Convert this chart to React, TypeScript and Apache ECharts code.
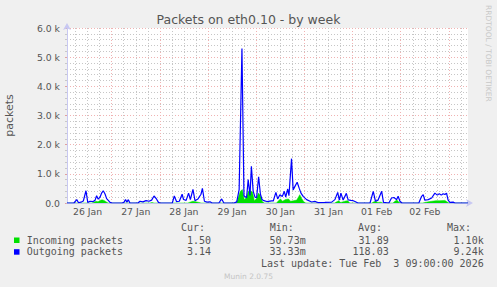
import { useEffect, useRef } from 'react';
import * as echarts from 'echarts';

const TITLE = 'Packets on eth0.10 - by week';
const Y_NAME = 'packets';

// hours measured from 26 Jan 00:00
const X_MIN = 1.75;
const X_MAX = 201.5;
const dayLabels = ['26 Jan', '27 Jan', '28 Jan', '29 Jan', '30 Jan', '31 Jan', '01 Feb', '02 Feb'];
const dayNoonHours = [12, 36, 60, 84, 108, 132, 156, 180];
const midnightHours = [24, 48, 72, 96, 120, 144, 168, 192];
const sixHourHours = [6, 12, 18, 30, 36, 42, 54, 60, 66, 78, 84, 90, 102, 108, 114, 126, 132, 138, 150, 156, 162, 174, 180, 186, 198];

const yTicks = [0, 1000, 2000, 3000, 4000, 5000, 6000];

const outHours = [
  1.75, 5.2, 6.6, 7.5, 9.1, 9.9, 11.2, 12.1, 13.2, 14.8, 15.7, 16.5, 17.3, 18.2, 19.0, 19.8, 20.7, 21.5, 22.3, 23.2, 24.2,
  29.1, 30.1, 30.9, 31.6, 32.3, 33.1,
  37.1, 38.1, 39.6, 41.1, 42.6, 43.9, 45.1, 46.4, 47.3, 48.1,
  54.2, 55.2, 56.3, 57.7, 59.1, 59.8, 61.1, 62.3, 63.2, 64.5, 65.5, 67.0, 68.5, 69.2, 70.2, 71.5, 73.0, 74.0,
  77.4, 78.8, 79.9,
  84.9, 86.3, 87.5, 88.9, 89.9, 91.2, 92.0, 92.9, 93.6, 94.5, 95.4, 96.2, 97.2, 98.1, 98.9, 99.8, 101.3, 103.7,
  104.5, 105.8, 106.7, 107.8, 109.0, 110.0, 110.7, 111.7, 112.3, 113.6, 114.4, 115.3, 116.4, 117.4, 118.3, 119.4,
  121.1, 123.6, 125.2, 126.7, 130.2, 133.6, 135.2, 136.6, 137.4, 138.2, 139.3, 140.9, 141.8, 143.2, 144.3, 145.2, 146.7,
  152.7, 154.3, 155.4, 156.7, 158.5, 159.4, 162.1, 163.4, 164.6, 165.9, 166.7, 167.6, 168.6,
  177.0, 178.4, 179.2, 180.0, 181.7, 183.4, 185.0, 186.2, 187.2, 188.2, 189.1, 190.0, 190.8, 191.6, 192.5, 194.1, 195.0, 201.5,
];
const outValues = [
  0, 0, 115, 10, 40, 70, 420, 20, 60, 50, 90, 250, 130, 200, 340, 420, 310, 150, 90, 20, 0,
  0, 20, 115, 30, 115, 0,
  0, 60, 40, 80, 60, 100, 240, 130, 20, 0,
  0, 240, 50, 60, 300, 120, 90, 340, 120, 470, 80, 140, 300, 500, 60, 30, 40, 0,
  0, 140, 0,
  0, 40, 460, 5300, 250, 180, 800, 260, 1255, 400, 200, 180, 900, 300, 120, 80, 50, 70,
  70, 365, 140, 285, 225, 400, 200, 480, 250, 1520, 450, 570, 710, 510, 340, 225,
  115, 35, 55, 15, 20, 30, 115, 365, 100, 340, 100, 330, 110, 90, 80, 50, 0,
  0, 400, 60, 100, 400, 20, 0, 170, 190, 115, 230, 60, 0,
  0, 230, 290, 95, 115, 170, 340, 270, 320, 270, 320, 290, 340, 95, 20, 30, 0, 0,
];

const inHours = [
  1.75, 14.2, 15.2, 16.2, 17.2, 18.2, 19.2, 20.2, 21.2, 22.2,
  43.1, 44.1, 45.1,
  62.0, 63.0, 64.5, 66.0, 67.5, 68.5,
  86.1, 87.1, 88.1, 89.1, 90.1, 91.1, 92.1, 93.1, 94.1, 95.1, 96.1, 97.1, 98.1, 99.1, 100.1,
  106.1, 107.1, 108.1, 109.1, 110.6, 112.1, 113.1, 114.6, 116.2, 117.7, 118.7, 119.7, 120.7,
  135.1, 136.1, 137.1, 138.1, 140.6, 141.6, 142.6,
  153.6, 154.6, 155.6, 156.6, 158.1, 159.1,
  164.1, 165.1, 166.1, 167.1, 168.1,
  179.0, 180.0, 182.5, 185.5, 187.5, 190.0, 191.0, 192.0, 201.5,
];
const inValues = [
  0, 0, 30, 60, 40, 90, 110, 90, 40, 0,
  0, 20, 0,
  0, 30, 60, 40, 20, 0,
  0, 200, 400, 460, 100, 200, 400, 420, 380, 80, 150, 340, 250, 40, 0,
  0, 80, 140, 60, 120, 140, 60, 80, 100, 285, 150, 40, 0,
  0, 40, 80, 20, 70, 80, 0,
  0, 40, 60, 20, 30, 0,
  0, 60, 100, 30, 0,
  0, 20, 50, 80, 80, 90, 40, 0, 0,
];

const seriesNames = ['Incoming packets', 'Outgoing packets'];
const seriesColors = ['#00e000', '#0000ff'];
const statHeaders = ['Cur:', 'Min:', 'Avg:', 'Max:'];
const curValues = ['1.50', '3.14'];
const minValues = ['50.73m', '33.33m'];
const avgValues = ['31.89', '118.03'];
const maxValues = ['1.10k', '9.24k'];
const LAST_UPDATE = 'Last update: Tue Feb  3 09:00:00 2026';
const MUNIN_VERSION = 'Munin 2.0.75';
const WATERMARK = 'RRDTOOL / TOBI OETIKER';

const SANS = '"DejaVu Sans", sans-serif';
const MONO = '"DejaVu Sans Mono", monospace';
const TEXT = '#555';

export default function App() {
  const ref = useRef<HTMLDivElement>(null);

  useEffect(() => {
    if (!ref.current) return;
    const chart = echarts.init(ref.current, undefined, { renderer: 'svg' });

    const monoText = (text: string, x: number, y: number, align: string) => ({
      type: 'text',
      style: {
        text, x, y,
        fill: TEXT,
        font: `10px ${MONO}`,
        align, textAlign: align,
        verticalAlign: 'middle', textVerticalAlign: 'middle',
      },
    });

    const rowY = [240, 251.7];
    const headerLeft = [181, 269.7, 358, 447];
    const valueRight = [211, 305.7, 388.7, 483.7];
    const stats = [curValues, minValues, avgValues, maxValues];

    const graphic: any[] = [];
    statHeaders.forEach((h, i) => graphic.push(monoText(h, headerLeft[i], 227.7, 'left')));
    seriesNames.forEach((name, r) => {
      graphic.push({
        type: 'rect',
        shape: { x: 14, y: rowY[r] - 2.5, width: 5.5, height: 5.5 },
        style: { fill: seriesColors[r] },
      });
      graphic.push(monoText(name, 26.7, rowY[r], 'left'));
      stats.forEach((col, c) => graphic.push(monoText(col[r], valueRight[c], rowY[r], 'right')));
    });
    graphic.push(monoText(LAST_UPDATE, 483.7, 263.3, 'right'));
    graphic.push({
      type: 'text',
      style: {
        text: MUNIN_VERSION, x: 248.5, y: 276.7, fill: '#c4c4c4',
        font: `7.5px ${SANS}`, align: 'center', textAlign: 'center',
        verticalAlign: 'middle', textVerticalAlign: 'middle',
      },
    });
    graphic.push({
      type: 'text',
      x: 488.3, y: 53.3, rotation: -Math.PI / 2,
      style: {
        text: WATERMARK, x: 0, y: 0, fill: '#c8c8c8',
        font: `7.5px ${SANS}`, align: 'center', textAlign: 'center',
        verticalAlign: 'middle', textVerticalAlign: 'middle',
      },
    });

    const redGrid = { color: '#f0b2b2', width: 1, type: [1, 2] as number[] };
    const greyGrid = { color: '#c6c6c6', width: 1, type: [1, 2] as number[] };
    const axisColor = '#c8c8f2';

    chart.setOption({
      animation: false,
      backgroundColor: '#f0f0f0',
      title: {
        text: TITLE,
        left: 'center',
        top: 12,
        padding: 0,
        textStyle: { fontSize: 12.5, lineHeight: 14, fontWeight: 'normal', color: TEXT, fontFamily: SANS },
      },
      grid: {
        left: 67, right: 29, top: 28, bottom: 84,
        show: true, backgroundColor: '#ffffff', borderWidth: 0,
        containLabel: false, outerBoundsMode: 'none',
      },
      xAxis: [
        {
          type: 'value', min: X_MIN, max: X_MAX, position: 'bottom',
          axisLine: { show: false },
          axisTick: { show: true, length: 0, customValues: sixHourHours },
          axisLabel: { show: false },
          splitLine: { show: true, lineStyle: greyGrid },
          z: 0,
        },
        {
          type: 'value', min: X_MIN, max: X_MAX, position: 'bottom',
          axisLine: {
            show: true, onZero: false,
            lineStyle: { color: axisColor, width: 1 },
            symbol: ['none', 'arrow'], symbolSize: [6, 7], symbolOffset: [0, 5],
          },
          axisTick: { show: false, customValues: midnightHours },
          axisLabel: {
            show: true, customValues: dayNoonHours, margin: 4,
            fontSize: 9.3, color: TEXT, fontFamily: SANS,
            formatter: (v: number) => dayLabels[Math.round((v - 12) / 24)] ?? '',
          },
          splitLine: { show: true, lineStyle: redGrid },
          z: 1,
        },
      ],
      yAxis: {
        type: 'value', min: yTicks[0], max: yTicks[yTicks.length - 1], interval: yTicks[1] - yTicks[0],
        name: Y_NAME, nameLocation: 'middle', nameGap: 52, nameRotate: 90,
        nameTextStyle: { fontSize: 11, color: TEXT, fontFamily: SANS },
        axisLine: {
          show: true,
          lineStyle: { color: axisColor, width: 1 },
          symbol: ['none', 'arrow'], symbolSize: [6, 7], symbolOffset: [0, 5],
        },
        axisTick: { show: true, length: 2, lineStyle: { color: '#e0a0a0' } },
        minorTick: { show: true, splitNumber: 5, length: 2, lineStyle: { color: '#c8c8c8' } },
        axisLabel: {
          margin: 7, fontSize: 9.3, color: TEXT, fontFamily: SANS,
          formatter: (v: number) => (v === 0 ? '0.0' : (v / 1000).toFixed(1) + ' k'),
        },
        splitLine: { show: true, lineStyle: redGrid },
        minorSplitLine: { show: true, lineStyle: greyGrid },
      },
      graphic,
      series: [
        {
          name: seriesNames[0],
          type: 'line',
          xAxisIndex: 1,
          data: inHours.map((h, i) => [h, inValues[i]]),
          symbol: 'none',
          color: seriesColors[0],
          lineStyle: { width: 0.5, color: seriesColors[0] },
          areaStyle: { color: seriesColors[0], opacity: 1 },
          z: 3,
        },
        {
          name: seriesNames[1],
          type: 'line',
          xAxisIndex: 1,
          data: outHours.map((h, i) => [h, outValues[i]]),
          symbol: 'none',
          color: seriesColors[1],
          lineStyle: { width: 1.2, color: seriesColors[1] },
          z: 4,
        },
      ],
    });

    return () => chart.dispose();
  }, []);

  return (
    <div
      ref={ref}
      style={{ position: 'absolute', left: 0, top: 0, width: 497, height: 287, background: '#f0f0f0' }}
    />
  );
}
